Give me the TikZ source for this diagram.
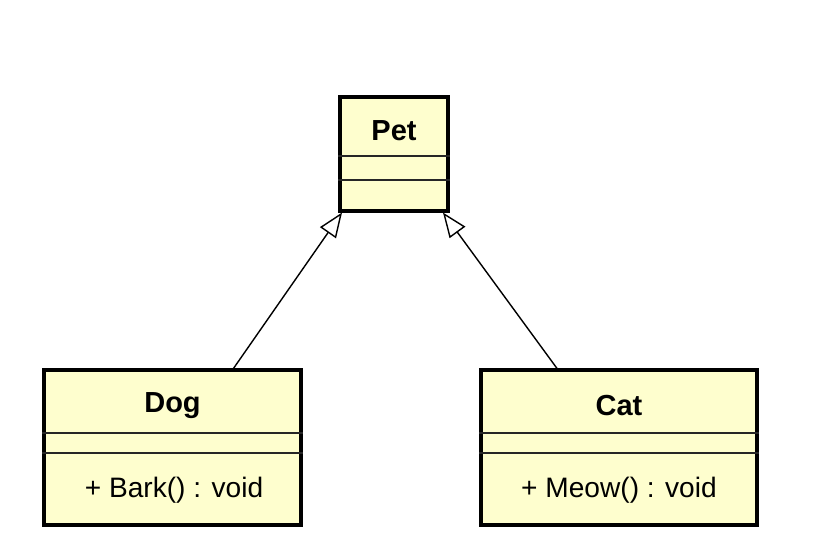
\documentclass[tikz,border=0pt]{standalone}
\usepackage{fontspec}
\setmainfont{Liberation Sans}
\usetikzlibrary{arrows.meta,positioning}
\definecolor{classfill}{HTML}{FEFECE}

\begin{document}
\begin{tikzpicture}[x=0.02cm,y=-0.02cm,
  umlbox/.style={draw, line width=1.8pt, fill=classfill, inner sep=0pt},
  sep/.style={line width=1.1pt, black!85},
  title/.style={font=\fontsize{16.5}{19}\selectfont\bfseries},
  member/.style={font=\fontsize{16}{19}\selectfont},
  inherit/.style={line width=0.8pt, -{Triangle[open,fill=white,length=14pt,width=11pt]}}]

\useasboundingbox (0,0) rectangle (829,545);

\node[umlbox, minimum width=2.16cm, minimum height=2.28cm] (pet) at (394,154) {};
\node[umlbox, minimum width=5.14cm, minimum height=3.10cm] (dog) at (172.5,447.5) {};
\node[umlbox, minimum width=5.52cm, minimum height=3.10cm] (cat) at (619,447.5) {};

% compartments
\draw[sep] ([yshift=-1.22cm]pet.north west) -- ([yshift=-1.22cm]pet.north east);
\draw[sep] ([yshift=-1.70cm]pet.north west) -- ([yshift=-1.70cm]pet.north east);
\foreach \c in {dog, cat} {
  \draw[sep] ([yshift=-1.30cm]\c.north west) -- ([yshift=-1.30cm]\c.north east);
  \draw[sep] ([yshift=-1.70cm]\c.north west) -- ([yshift=-1.70cm]\c.north east);
}

\node[title] (pettitle) at (394,131) {Pet};
\node[title] (dogtitle) at (172.5,406) {Dog};
\node[title] (cattitle) at (619,406) {Cat};
\node[member] (dogop) at (174,490) {+ Bark() : void};
\node[member] (catop) at (619,490) {+ Meow() : void};

% generalisation
\draw[inherit] ([xshift=1.22cm]dog.north) -- ([xshift=-1.04cm]pet.south);
\draw[inherit] ([xshift=-1.24cm]cat.north) -- ([xshift=0.98cm]pet.south);

\end{tikzpicture}
\end{document}
